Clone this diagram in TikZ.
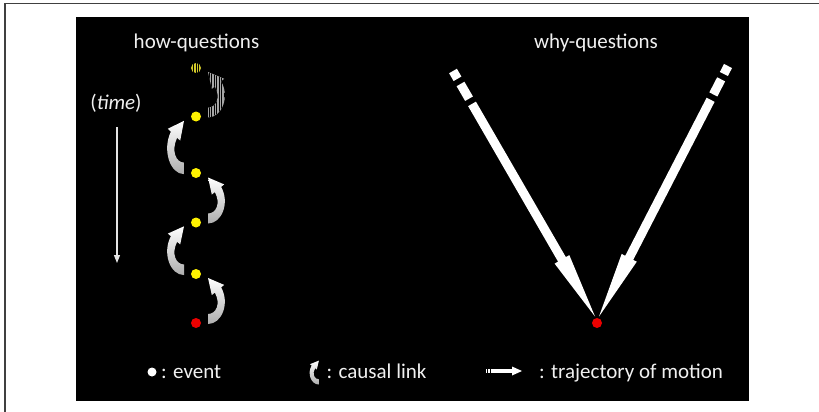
\documentclass[tikz,border=0pt]{standalone}
\usepackage{fontspec}
\setmainfont{Carlito}
\usetikzlibrary{calc,arrows.meta}
\begin{document}
\begin{tikzpicture}[x=1pt,y=-1pt,
  lbl/.style={text=white!94!black, font=\fontsize{21}{25}\selectfont, inner sep=0pt},
  dot/.style={circle, minimum size=10pt, inner sep=0pt, draw=none},
  clshape/.style={insert path={(12,-1) .. controls (26,-1) and (34,20) .. (25.1,35.6) -- (28.2,38.1) -- (12,45) -- (15.8,27.9) -- (18.9,30.4) .. controls (25,19) and (20,9) .. (12,9) -- cycle}},
  clfill/.style={top color=white, bottom color=black!32},
  traj/.style={white, line width=9pt, dash pattern=on 9pt off 6pt on 17pt off 6pt on 600pt off 1pt},
  timeline/.style={white!90!black, line width=1.1pt, -{Triangle[width=6pt,length=8pt]}},
  gap/.style={black, line width=0.9pt}
]
\useasboundingbox (0,0) rectangle (819,412);
\fill[white] (0,0) rectangle (819,412);
\draw[line width=1.6pt, black!75] (4.7,412) -- (4.7,3.7) -- (819,3.7);
\fill[black] (76,17) rectangle (749,401);

% titles
\node[lbl, anchor=base] (how) at (196.5,48.5) {how-questions};
\node[lbl, anchor=base] (why) at (596,48.5) {why-questions};
\node[lbl, anchor=base] (time) at (116,110) {(\textit{time})};

% time arrow
\coordinate (t0) at (117,127);
\coordinate (t1) at (117,263);
\draw[timeline] (t0) -- (t1);

% events
\node[dot, fill=yellow!80!black] (e1) at (196,68) {};
\node[dot, fill=yellow] (e2) at (196,116.5) {};
\node[dot, fill=yellow] (e3) at (196,173) {};
\node[dot, fill=yellow] (e4) at (196,222.5) {};
\node[dot, fill=yellow] (e5) at (196,274) {};
\node[dot, fill=red!92!black] (e6) at (196,323) {};

% striped event
\foreach \dx in {-2.4,0,2.4}
  \draw[gap] ($(e1.center)+(\dx,-6)$) -- ($(e1.center)+(\dx,6)$);

% striped causal link e2 -> e1
\begin{scope}[shift={(e2.center)}, yscale=-0.99]
  \fill[gray!70] [clshape];
  \clip [clshape];
  \foreach \i in {0,...,10}
    \draw[gap] ({10.5+2.5*\i},-3) -- ({10.5+2.5*\i},49);
\end{scope}

% causal links
\begin{scope}[shift={(e3.center)}, xscale=-1, yscale=-1.16]
  \shade[clfill] [clshape];
\end{scope}
\begin{scope}[shift={(e4.center)}, yscale=-1.0]
  \shade[clfill] [clshape];
\end{scope}
\begin{scope}[shift={(e5.center)}, xscale=-1, yscale=-1.06]
  \shade[clfill] [clshape];
\end{scope}
\begin{scope}[shift={(e6.center)}, yscale=-1.0]
  \shade[clfill] [clshape];
\end{scope}

% why-questions
\node[dot, fill=red!92!black] (r) at (597,323) {};
\coordinate (LA) at (453,71);
\coordinate (LT) at (595,316.5);
\coordinate (RA) at (728,66);
\coordinate (RT) at (599,316.5);
\coordinate (LB) at ($(LT)!66pt!(LA)$);
\coordinate (RB) at ($(RT)!66pt!(RA)$);
\draw[traj] (LA) -- ($(LT)!64pt!(LA)$);
\draw[traj] (RA) -- ($(RT)!64pt!(RA)$);
\fill[white] ($(LB)!8.5pt!90:(LT)$) -- (LT) -- ($(LB)!8.5pt!-90:(LT)$) -- cycle;
\fill[white] ($(RB)!8.5pt!90:(RT)$) -- (RT) -- ($(RB)!8.5pt!-90:(RT)$) -- cycle;

% legend
\node[dot, fill=white, minimum size=9pt] (lev) at (152,372) {};
\node[lbl, anchor=base west] (levt) at (161,378) {: event};
\begin{scope}[shift={(325.5,384)}, xscale=-0.55, yscale=-0.52]
  \shade[clfill] [clshape];
\end{scope}
\node[lbl, anchor=base west] (lcl) at (326.5,378) {: causal link};
\coordinate (lt0) at (486,371);
\coordinate (lt1) at (512,371);
\coordinate (lt2) at (522,371);
\draw[white, line width=4pt, dash pattern=on 1.3pt off 1pt on 1.3pt off 1pt on 60pt off 1pt] (lt0) -- (lt1);
\fill[white] ($(lt1)+(0,-4.5)$) -- (lt2) -- ($(lt1)+(0,4.5)$) -- cycle;
\node[lbl, anchor=base west] (ltr) at (539,378) {: trajectory of motion};
\end{tikzpicture}
\end{document}
